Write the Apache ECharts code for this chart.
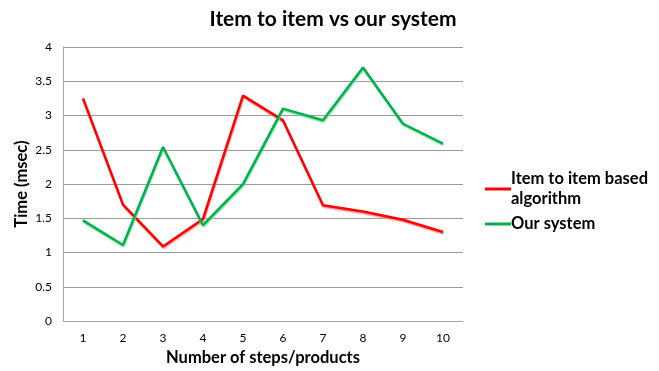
<!DOCTYPE html>
<html>
<head>
<meta charset="utf-8">
<script src="https://cdn.jsdelivr.net/npm/echarts@6/dist/echarts.min.js"></script>
<style>
  html, body { margin: 0; padding: 0; background: #fff; }
  #chart { width: 659px; height: 371px; }
</style>
</head>
<body>
<div id="chart"></div>
<script>
// Step counts along the x axis
const steps = ['1', '2', '3', '4', '5', '6', '7', '8', '9', '10'];
// Response time (msec) per step
const itemToItem = [3.25, 1.70, 1.09, 1.49, 3.29, 2.93, 1.69, 1.60, 1.48, 1.30];
const ourSystem  = [1.47, 1.11, 2.54, 1.40, 2.00, 3.10, 2.93, 3.70, 2.88, 2.59];
const seriesNames = ['Item to item based algorithm', 'Our system'];
const legendLabels = {
  'Item to item based algorithm': 'Item to item based\nalgorithm',
  'Our system': 'Our system'
};

const font = 'Lato, "Open Sans", "Noto Sans", sans-serif';

const chart = echarts.init(document.getElementById('chart'), null, { renderer: 'canvas' });

chart.setOption({
  animation: false,
  backgroundColor: '#ffffff',
  title: {
    text: 'Item to item vs our system',
    left: 328,
    textAlign: 'center',
    top: 4,
    textStyle: { fontFamily: font, fontSize: 21, fontWeight: 'bold', color: '#000' }
  },
  grid: { left: 63, right: 196, top: 47, bottom: 49, containLabel: false },
  legend: {
    orient: 'vertical',
    left: 480,
    top: 164,
    itemWidth: 26,
    itemHeight: 3,
    itemGap: 5,
    icon: 'rect',
    data: seriesNames,
    formatter: name => legendLabels[name],
    textStyle: { fontFamily: font, fontSize: 16.5, fontWeight: 'bold', color: '#000', lineHeight: 20, padding: [0, 0, 0, -5] }
  },
  xAxis: {
    type: 'category',
    data: steps,
    boundaryGap: true,
    name: 'Number of steps/products',
    nameLocation: 'middle',
    nameGap: 27,
    nameTextStyle: { fontFamily: font, fontSize: 16.5, fontWeight: 'bold', color: '#000' },
    axisLine: { lineStyle: { color: '#a6a6a6', width: 1 } },
    axisTick: { show: false },
    axisLabel: { fontFamily: font, fontSize: 12, color: '#000', margin: 11 },
    splitLine: { show: false }
  },
  yAxis: {
    type: 'value',
    min: 0,
    max: 4,
    interval: 0.5,
    name: 'Time (msec)',
    nameLocation: 'middle',
    nameGap: 33,
    nameMoveOverlap: false,
    nameTextStyle: { fontFamily: font, fontSize: 16.5, fontWeight: 'bold', color: '#000' },
    axisLine: { show: true, lineStyle: { color: '#a6a6a6', width: 1 } },
    axisTick: { show: false },
    axisLabel: { fontFamily: font, fontSize: 12, color: '#000', margin: 11 },
    splitLine: { lineStyle: { color: '#9a9a9a', width: 1 } }
  },
  series: [
    {
      name: seriesNames[0],
      type: 'line',
      data: itemToItem,
      symbol: 'none',
      color: '#ff0000',
      lineStyle: {
        color: '#ff0000', width: 2.5,
        shadowColor: 'rgba(255,130,130,0.8)', shadowBlur: 1, shadowOffsetX: 0.5, shadowOffsetY: 1.5
      }
    },
    {
      name: seriesNames[1],
      type: 'line',
      data: ourSystem,
      symbol: 'none',
      color: '#00b050',
      lineStyle: {
        color: '#00b050', width: 2.5,
        shadowColor: 'rgba(120,220,150,0.8)', shadowBlur: 1, shadowOffsetX: 0.5, shadowOffsetY: 1.5
      }
    }
  ]
});
</script>
</body>
</html>
